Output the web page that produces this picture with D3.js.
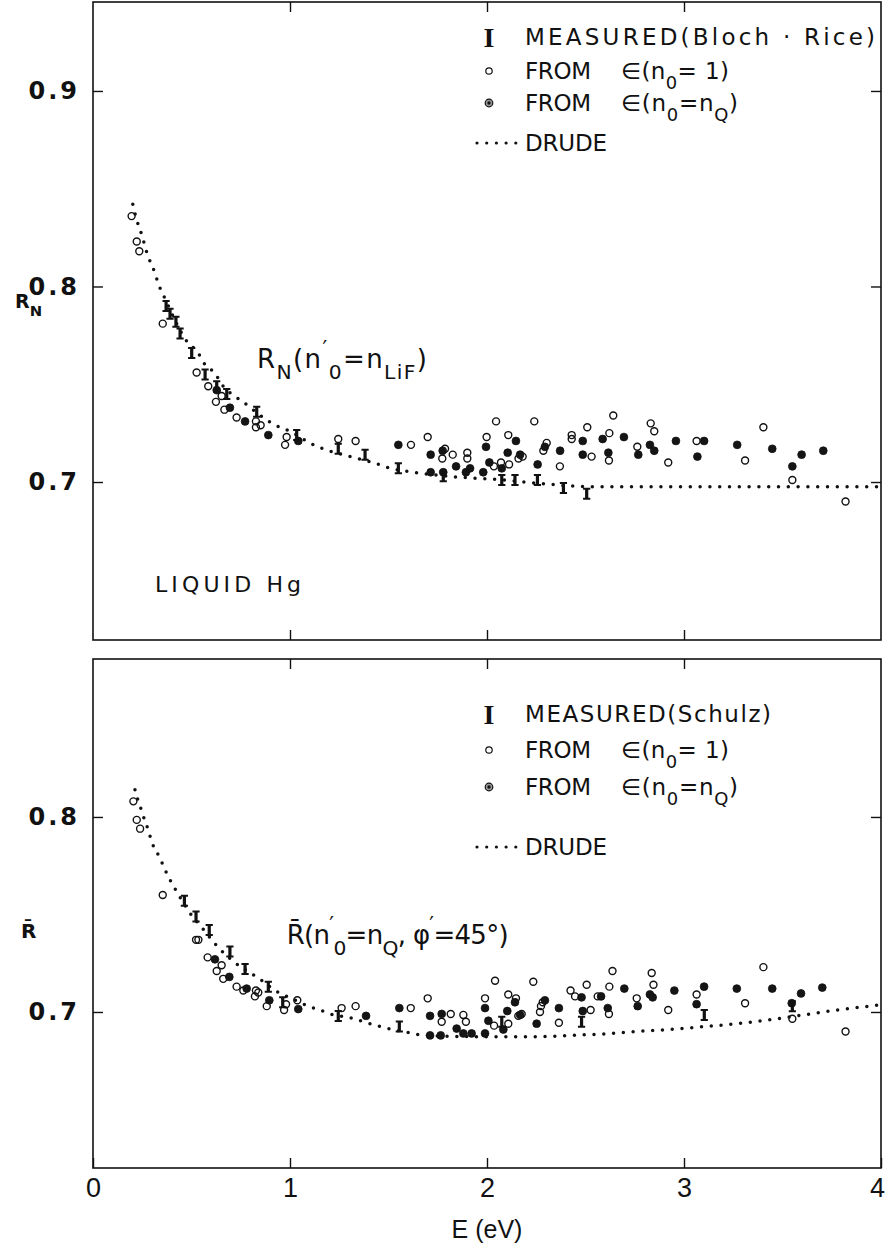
<!DOCTYPE html>
<html>
<head>
<meta charset="utf-8">
<script src="https://cdn.jsdelivr.net/npm/d3@7"></script>
<style>
  body { margin: 0; background: #fff; }
  svg { display: block; }
</style>
</head>
<body>
<div id="chart"></div>
<script>
'use strict';

// ---- data: [E (eV), R] ----
const energy_ticks = [0, 1, 2, 3, 4]
const top_r_ticks = [0.7, 0.8, 0.9]
const bot_r_ticks = [0.7, 0.8]

const top_measured = [[0.371,0.790],[0.391,0.786],[0.421,0.782],[0.442,0.776],[0.501,0.766],[0.569,0.755],[0.628,0.749],[0.679,0.745],[0.831,0.736],[1.034,0.724],[1.245,0.717],[1.381,0.714],[1.550,0.707],[1.778,0.703],[2.075,0.701],[2.142,0.701],[2.256,0.701],[2.388,0.697],[2.506,0.694]]

const top_open = [[0.196,0.836],[0.222,0.823],[0.235,0.818],[0.354,0.781],[0.526,0.756],[0.585,0.749],[0.653,0.744],[0.624,0.741],[0.667,0.737],[0.729,0.733],[0.827,0.731],[0.827,0.728],[0.851,0.729],[0.983,0.723],[0.975,0.719],[1.245,0.722],[1.333,0.721],[1.614,0.719],[1.699,0.723],[1.773,0.712],[1.787,0.717],[1.826,0.714],[1.900,0.715],[1.900,0.712],[1.998,0.723],[2.046,0.731],[2.035,0.708],[2.071,0.710],[2.108,0.724],[2.112,0.709],[2.160,0.712],[2.181,0.713],[2.240,0.731],[2.286,0.716],[2.303,0.720],[2.370,0.708],[2.430,0.724],[2.430,0.722],[2.509,0.728],[2.531,0.713],[2.619,0.711],[2.621,0.725],[2.641,0.734],[2.763,0.718],[2.831,0.730],[2.849,0.726],[2.920,0.710],[3.064,0.721],[3.310,0.711],[3.403,0.728],[3.550,0.701],[3.820,0.690]]

const top_filled = [[0.628,0.747],[0.695,0.738],[0.772,0.731],[0.890,0.724],[1.042,0.721],[1.550,0.719],[1.714,0.714],[1.714,0.705],[1.775,0.716],[1.778,0.705],[1.843,0.708],[1.893,0.705],[1.914,0.707],[1.981,0.705],[1.995,0.718],[2.012,0.710],[2.075,0.707],[2.105,0.715],[2.147,0.721],[2.168,0.714],[2.257,0.709],[2.294,0.718],[2.371,0.716],[2.486,0.721],[2.486,0.714],[2.587,0.722],[2.616,0.715],[2.695,0.723],[2.768,0.714],[2.827,0.719],[2.849,0.716],[2.959,0.721],[3.068,0.713],[3.102,0.721],[3.270,0.719],[3.448,0.717],[3.550,0.708],[3.597,0.714],[3.707,0.716]]

const top_drude = [[0.202,0.842],[0.222,0.834],[0.239,0.829],[0.252,0.825],[0.268,0.819],[0.285,0.814],[0.303,0.810],[0.320,0.805],[0.337,0.800],[0.360,0.795],[0.476,0.772],[0.534,0.766],[0.569,0.760],[0.615,0.756],[0.661,0.749],[0.717,0.744],[0.762,0.741],[0.798,0.738],[0.864,0.733],[0.908,0.730],[0.950,0.728],[1.000,0.726],[1.100,0.720],[1.170,0.717],[1.306,0.713],[1.420,0.710],[1.510,0.707],[1.626,0.705],[1.930,0.702],[2.030,0.7015],[2.185,0.700],[2.300,0.699],[2.420,0.698],[2.560,0.6976],[3.000,0.6976],[3.500,0.6976],[3.980,0.6976]]

const bot_measured = [[0.464,0.757],[0.523,0.749],[0.590,0.742],[0.695,0.731],[0.772,0.722],[0.890,0.713],[0.963,0.705],[1.245,0.698],[1.555,0.6925],[2.075,0.695],[2.480,0.695],[3.103,0.6985],[3.550,0.703]]

const bot_open = [[0.205,0.808],[0.222,0.7985],[0.239,0.794],[0.354,0.760],[0.523,0.737],[0.535,0.737],[0.582,0.728],[0.653,0.724],[0.628,0.721],[0.661,0.717],[0.729,0.713],[0.763,0.711],[0.827,0.711],[0.839,0.710],[0.822,0.708],[0.882,0.703],[0.980,0.704],[0.970,0.701],[1.037,0.706],[1.262,0.702],[1.333,0.703],[1.613,0.702],[1.699,0.707],[1.770,0.695],[1.816,0.699],[1.880,0.6985],[1.893,0.695],[1.990,0.707],[2.041,0.716],[2.108,0.709],[2.147,0.707],[2.036,0.693],[2.108,0.694],[2.159,0.698],[2.176,0.699],[2.235,0.7155],[2.269,0.700],[2.274,0.703],[2.283,0.705],[2.365,0.6945],[2.424,0.711],[2.447,0.708],[2.506,0.714],[2.526,0.701],[2.562,0.708],[2.621,0.713],[2.619,0.699],[2.637,0.721],[2.760,0.707],[2.836,0.720],[2.845,0.714],[2.920,0.701],[3.064,0.709],[3.310,0.7045],[3.403,0.723],[3.550,0.6965],[3.820,0.690]]

const bot_filled = [[0.619,0.727],[0.692,0.718],[0.780,0.712],[0.895,0.706],[1.042,0.7015],[1.386,0.698],[1.555,0.702],[1.711,0.698],[1.770,0.699],[1.711,0.688],[1.765,0.688],[1.846,0.6915],[1.880,0.689],[1.922,0.689],[1.990,0.689],[1.990,0.702],[2.007,0.6955],[2.103,0.7005],[2.142,0.705],[2.083,0.691],[2.168,0.6985],[2.252,0.694],[2.294,0.706],[2.365,0.702],[2.480,0.7075],[2.486,0.7005],[2.579,0.708],[2.613,0.702],[2.697,0.712],[2.765,0.703],[2.827,0.709],[2.841,0.7075],[2.951,0.711],[3.064,0.704],[3.102,0.713],[3.268,0.712],[3.448,0.712],[3.547,0.7045],[3.594,0.7095],[3.702,0.7125]]

const bot_drude = [[0.213,0.814],[0.227,0.809],[0.244,0.804],[0.260,0.799],[0.278,0.794],[0.293,0.789],[0.311,0.784],[0.335,0.780],[0.357,0.775],[0.379,0.770],[0.406,0.765],[0.435,0.760],[0.490,0.751],[0.563,0.742],[0.628,0.734],[0.712,0.726],[0.814,0.719],[0.859,0.716],[0.924,0.711],[0.996,0.7075],[1.093,0.703],[1.152,0.701],[1.203,0.699],[1.305,0.697],[1.406,0.694],[1.460,0.6925],[1.623,0.689],[1.677,0.688],[2.024,0.6873],[2.252,0.6873],[2.421,0.688],[2.590,0.6887],[2.760,0.690],[2.929,0.691],[3.098,0.6925],[3.268,0.694],[3.437,0.696],[3.606,0.6985],[3.775,0.701],[3.978,0.7034]]

// ---- layout ----
const width = 886, height = 1254
const plot_left = 93, plot_right = 881
const font = "'DejaVu Sans', sans-serif"

const svg = d3.select('#chart').append('svg')
  .attr('width', width)
  .attr('height', height)
  .style('background', '#fff')

const xScale = d3.scaleLinear().domain([0, 4]).range([plot_left, plot_right])

// the I-beam glyph for measured points
const bar_path = 'M-3.6,-6h7.2v2h-2v8h2v2h-7.2v-2h2v-8h-2z'

// text with sub/superscripts; parts = [[string, kind]]
function rich_text(g, x, y, parts, size, opts = {}) {
  const t = g.append('text')
    .attr('x', x)
    .attr('y', y)
    .style('font-family', opts.family || font)
    .style('font-size', size + 'px')
    .style('font-weight', opts.weight || 'normal')
    .attr('fill', '#111')
  let shift = 0
  parts.forEach(p => {
    const kind = p[1] || 'n'
    let target = 0, fs = size
    if(kind === 'sub'){ target = size * 0.42; fs = size * 0.78 }
    if(kind === 'sup'){ target = -size * 0.45; fs = size * 0.8 }
    t.append('tspan')
      .attr('dy', target - shift)
      .style('font-size', fs + 'px')
      .text(p[0])
    shift = target
  })
  if(opts.len){
    t.attr('textLength', opts.len).attr('lengthAdjust', 'spacing')
  }
  return t
}

function panel(cfg) {
  const yScale = d3.scaleLinear().domain(cfg.domain).range([cfg.bottom, cfg.top])
  const g = svg.append('g')

  // axes, ticks pointing inward on all four sides
  g.append('g')
    .attr('transform', `translate(${plot_left},0)`)
    .call(d3.axisLeft(yScale).tickValues(cfg.r_ticks).tickSize(-10).tickPadding(13)
      .tickFormat(d3.format('.1f')))
    .call(a => a.select('.domain').remove())
    .call(a => a.selectAll('text')
      .style('font-family', font)
      .style('font-weight', 'bold')
      .style('font-size', '24px')
      .style('letter-spacing', '3px')
      .attr('fill', '#111'))
  g.append('g')
    .attr('transform', `translate(${plot_right},0)`)
    .call(d3.axisRight(yScale).tickValues(cfg.r_ticks).tickSize(-10).tickFormat(''))
    .call(a => a.select('.domain').remove())
  g.append('g')
    .attr('transform', `translate(0,${cfg.top})`)
    .call(d3.axisTop(xScale).tickValues([1, 2, 3]).tickSize(-10).tickFormat(''))
    .call(a => a.select('.domain').remove())
  const xAxis = d3.axisBottom(xScale).tickSize(-10).tickPadding(10)
  if(cfg.x_labels){
    xAxis.tickValues(energy_ticks).tickFormat(d3.format('d'))
  }else {
    xAxis.tickValues([1, 2, 3]).tickFormat('')
  }
  g.append('g')
    .attr('transform', `translate(0,${cfg.bottom})`)
    .call(xAxis)
    .call(a => a.select('.domain').remove())
    .call(a => a.selectAll('text')
      .style('font-family', "'Liberation Sans', sans-serif")
      .style('font-size', '27px')
      .attr('fill', '#111')
      .attr('dx', d => d === 4 ? -4 : 0))
  g.selectAll('.tick line').attr('stroke', '#111').attr('stroke-width', 1.4)

  g.append('rect')
    .attr('x', plot_left)
    .attr('y', cfg.top)
    .attr('width', plot_right - plot_left)
    .attr('height', cfg.bottom - cfg.top)
    .attr('fill', 'none')
    .attr('stroke', '#111')
    .attr('stroke-width', 1.6)

  // drude curve, dotted
  const line = d3.line()
    .x(d => xScale(d[0]))
    .y(d => yScale(d[1]))
    .curve(d3.curveMonotoneX)
  g.append('path')
    .datum(cfg.drude)
    .attr('d', line)
    .attr('fill', 'none')
    .attr('stroke', '#111')
    .attr('stroke-width', 3.5)
    .attr('stroke-linecap', 'round')
    .attr('stroke-dasharray', '0 9.8')

  g.append('g')
    .selectAll('circle')
    .data(cfg.open)
    .join('circle')
    .attr('cx', d => xScale(d[0]))
    .attr('cy', d => yScale(d[1]))
    .attr('r', 3.5)
    .attr('fill', 'none')
    .attr('stroke', '#111')
    .attr('stroke-width', 1.4)

  g.append('g')
    .selectAll('circle')
    .data(cfg.filled)
    .join('circle')
    .attr('cx', d => xScale(d[0]))
    .attr('cy', d => yScale(d[1]))
    .attr('r', 3.9)
    .attr('fill', '#151515')
    .attr('stroke', '#111')
    .attr('stroke-width', 0.8)

  g.append('g')
    .selectAll('path')
    .data(cfg.measured)
    .join('path')
    .attr('transform', d => `translate(${xScale(d[0])},${yScale(d[1])})`)
    .attr('d', bar_path)
    .attr('fill', '#111')

  // legend
  const lg = g.append('g')
  const ly = cfg.legend_y
  const sym_x = 489, txt_x = 525
  lg.append('text')
    .attr('x', sym_x)
    .attr('y', ly[0] + 10)
    .attr('text-anchor', 'middle')
    .style('font-family', "'Liberation Serif', serif")
    .style('font-weight', 'bold')
    .style('font-size', '28px')
    .attr('fill', '#111')
    .text('I')
  rich_text(lg, txt_x, ly[0] + 8, [[cfg.measured_label]], 23, {len: cfg.measured_len})

  lg.append('circle')
    .attr('cx', sym_x).attr('cy', ly[1])
    .attr('r', 3.2).attr('fill', 'none').attr('stroke', '#111').attr('stroke-width', 1.2)
  rich_text(lg, txt_x, ly[1] + 8, [['FROM']], 23, {len: 66})
  rich_text(lg, 621, ly[1] + 8, [['\u2208(n'], ['0', 'sub'], ['= 1)']], 23, {len: 108})

  lg.append('circle')
    .attr('cx', sym_x).attr('cy', ly[2])
    .attr('r', 3.8).attr('fill', '#999').attr('stroke', '#111').attr('stroke-width', 1.2)
  lg.append('circle')
    .attr('cx', sym_x).attr('cy', ly[2])
    .attr('r', 1.7).attr('fill', '#111')
  rich_text(lg, txt_x, ly[2] + 8, [['FROM']], 23, {len: 66})
  rich_text(lg, 621, ly[2] + 8, [['\u2208(n'], ['0', 'sub'], ['=n'], ['Q', 'sub'], [')']], 23, {len: 117})

  lg.append('line')
    .attr('x1', 477).attr('x2', 516)
    .attr('y1', ly[3]).attr('y2', ly[3])
    .attr('stroke', '#111')
    .attr('stroke-width', 3.2)
    .attr('stroke-linecap', 'round')
    .attr('stroke-dasharray', '0 9.7')
  rich_text(lg, txt_x, ly[3] + 8, [['DRUDE']], 23, {len: 82})

  return g
}

const top_g = panel({
  top: 2, bottom: 640, domain: [0.6192, 0.9455], r_ticks: top_r_ticks,
  drude: top_drude, open: top_open, filled: top_filled, measured: top_measured,
  legend_y: [37, 71, 103, 143], measured_label: 'MEASURED(Bloch \u00b7 Rice)', measured_len: 350,
  x_labels: false
})

const bot_g = panel({
  top: 659, bottom: 1168, domain: [0.62, 0.881], r_ticks: bot_r_ticks,
  drude: bot_drude, open: bot_open, filled: bot_filled, measured: bot_measured,
  legend_y: [714, 750, 787, 847], measured_label: 'MEASURED(Schulz)', measured_len: 246,
  x_labels: true
})

// curve labels
rich_text(top_g, 257, 368, [['R'], ['N', 'sub'], ['(n'], ['\u2032', 'sup'], ['0', 'sub'], ['=n'], ['LiF', 'sub'], [')']], 26, {len: 170})
rich_text(top_g, 155, 592, [['LIQUID  Hg']], 22, {len: 146})
rich_text(bot_g, 286, 944, [['R\u0304(n'], ['\u2032', 'sup'], ['0', 'sub'], ['=n'], ['Q', 'sub'], [', \u03c6'], ['\u2032', 'sup'], ['=45\u00b0)']], 26, {len: 222})

// axis titles
rich_text(svg, 15, 308, [['R'], ['N', 'sub']], 19, {weight: 'bold'})
rich_text(svg, 21, 938, [['R\u0304']], 20, {weight: 'bold'})
svg.append('text')
  .attr('x', xScale(2))
  .attr('y', 1238)
  .attr('text-anchor', 'middle')
  .style('font-family', "'Liberation Sans', sans-serif")
  .style('font-size', '25px')
  .attr('fill', '#111')
  .text('E (eV)')
</script>
</body>
</html>
